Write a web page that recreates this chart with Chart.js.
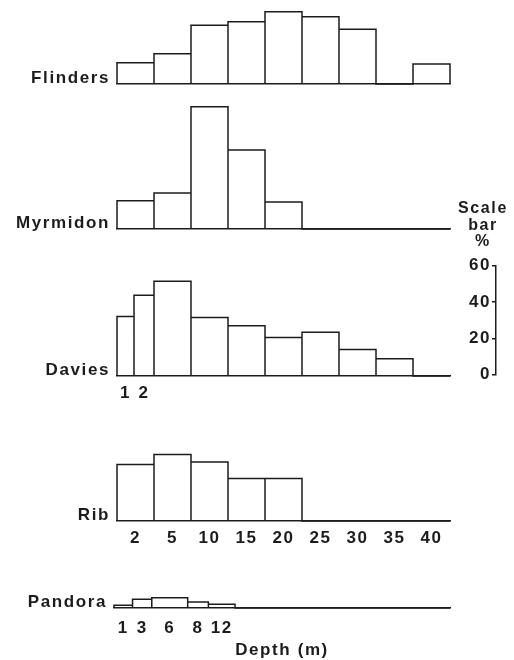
<!DOCTYPE html>
<html>
<head>
<meta charset="utf-8">
<title>Depth distribution</title>
<script src="https://cdn.jsdelivr.net/npm/chart.js@4.4.1/dist/chart.umd.min.js"></script>
<style>
  body { margin: 0; background: #fff; }
  #wrap { position: relative; width: 514px; height: 660px; overflow: hidden; }
  canvas { position: absolute; left: 0; }
</style>
</head>
<body>
<div id="wrap">
  <canvas id="flinders"></canvas>
  <canvas id="myrmidon"></canvas>
  <canvas id="davies"></canvas>
  <canvas id="rib"></canvas>
  <canvas id="pandora"></canvas>
  <canvas id="scalebar"></canvas>
</div>
<script>
// depth classes, one column each; edges are in column units
var depthLabels = ['2', '5', '10', '15', '20', '25', '30', '35', '40'];
var stdEdges = [0, 1, 2, 3, 4, 5, 6, 7, 8, 9];

// % of records per depth class
var flinders = [11.5, 16.4, 31.9, 33.7, 39.2, 36.4, 29.7, 0, 10.9];
var myrmidon = [15.3, 19.5, 66.3, 42.8, 14.6, 0, 0, 0, 0];
var rib = [30.6, 36.0, 32.0, 23.0, 23.0, 0, 0, 0, 0];

// Davies splits the first class into 1 m and 2 m
var daviesLabels = ['1', '2'];
var daviesEdges = [0, 0.46, 1, 2, 3, 4, 5, 6, 7, 8, 9];
var davies = [32.2, 43.7, 51.4, 31.7, 27.3, 20.9, 23.7, 14.4, 9.3, 0];

// Pandora has its own classes
var pandoraLabels = ['1', '3', '6', '8', '12'];
var pandoraEdges = [-0.08, 0.42, 0.94, 1.91, 2.47, 3.19, 9];
var pandora = [1.5, 4.7, 5.6, 3.3, 2.0, 0];

var scaleTicks = [0, 10, 20, 30, 40, 50, 60];

var INK = '#1c1c1c';
var COL_W = 37;       // px per depth column
var PCT_PX = 1.845;   // px per percent (same as the scale bar)
var AREA_H = 130;
var AXIS_H = 60;
var RIGHT = 450;

Chart.defaults.font.family = "'Liberation Sans', Arial, sans-serif";
Chart.defaults.font.size = 17;
Chart.defaults.font.weight = 'bold';
Chart.defaults.color = INK;

// the original lettering is widely spaced
Chart.register({
    id: 'spacing',
    beforeDraw: function (chart) { chart.ctx.letterSpacing = '1.6px'; }
});

function outline(edges, values) {
    var pts = [];
    values.forEach(function (v, i) {
        pts.push({x: edges[i], y: 0}, {x: edges[i], y: v},
                 {x: edges[i + 1], y: v}, {x: edges[i + 1], y: 0});
    });
    return pts;
}

function panel(id, name, baseline, edges, values, tickLabels, tickPad, title) {
    var canvas = document.getElementById(id);
    canvas.width = 514;
    canvas.height = AREA_H + AXIS_H;
    canvas.style.top = (baseline - AREA_H) + 'px';
    var xmin = Math.min(0, edges[0]);
    var xmax = edges[edges.length - 1];
    var centers = tickLabels.map(function (t, i) { return (edges[i] + edges[i + 1]) / 2; });

    new Chart(canvas, {
        type: 'scatter',
        data: {
            datasets: [{
                data: outline(edges, values),
                showLine: true,
                borderColor: INK,
                borderWidth: 1.5,
                borderJoinStyle: 'miter',
                pointRadius: 0,
                clip: false
            }]
        },
        options: {
            responsive: false,
            animation: false,
            events: [],
            layout: { padding: { left: 0, right: 514 - RIGHT, top: 0, bottom: 0 } },
            plugins: { legend: { display: false }, tooltip: { enabled: false } },
            scales: {
                x: {
                    type: 'linear', min: xmin, max: xmax,
                    grid: { display: false, drawTicks: false },
                    border: { color: INK, width: 1.5 },
                    ticks: {
                        display: tickLabels.length > 0,
                        autoSkip: false, maxRotation: 0, padding: tickPad,
                        callback: function (v, i) { return tickLabels[i]; }
                    },
                    afterBuildTicks: function (a) {
                        if (centers.length) a.ticks = centers.map(function (v) { return {value: v}; });
                    },
                    afterFit: function (a) { a.height = AXIS_H; },
                    title: { display: !!title, text: title, padding: { top: 0, bottom: 7 } }
                },
                y: {
                    min: 0, max: AREA_H / PCT_PX,
                    grid: { display: false, drawTicks: false },
                    border: { display: false },
                    ticks: { padding: 7, labelOffset: -6, callback: function () { return name; } },
                    afterBuildTicks: function (a) { a.ticks = [{value: 0}]; },
                    afterFit: function (a) {
                        a.width = RIGHT - (xmax - xmin) * COL_W;
                        a.paddingTop = 0;
                        a.paddingBottom = 0;
                    }
                }
            }
        }
    });
}

panel('flinders', 'Flinders', 84, stdEdges, flinders, [], 8);
panel('myrmidon', 'Myrmidon', 229, stdEdges, myrmidon, [], 8);
panel('davies', 'Davies', 376, daviesEdges, davies, daviesLabels, 7);
panel('rib', 'Rib', 521, stdEdges, rib, depthLabels, 7);
panel('pandora', 'Pandora', 608, pandoraEdges, pandora, pandoraLabels, 10, 'Depth (m)');

// scale bar
var sb = document.getElementById('scalebar');
sb.width = 58;
sb.height = 186;
sb.style.left = '456px';
sb.style.top = '200px';
new Chart(sb, {
    type: 'scatter',
    data: { datasets: [] },
    options: {
        responsive: false,
        animation: false,
        events: [],
        layout: { padding: { bottom: 10, right: 4 } },
        plugins: {
            legend: { display: false },
            tooltip: { enabled: false },
            title: {
                display: true,
                text: ['Scale', 'bar', '%'],
                font: { size: 16, weight: 'bold', lineHeight: 1.05 },
                padding: { top: 0, bottom: 15 }
            }
        },
        scales: {
            x: { display: false },
            y: {
                min: 0, max: 60,
                border: { color: INK, width: 1.5 },
                grid: { drawOnChartArea: false, drawTicks: true, tickLength: 4, color: INK, lineWidth: 1.5 },
                ticks: {
                    padding: 1,
                    callback: function (v) { return v % 20 === 0 ? String(v) : ''; }
                },
                afterBuildTicks: function (a) {
                    a.ticks = scaleTicks.map(function (v) { return {value: v}; });
                },
                afterFit: function (a) { a.width = 40; }
            }
        }
    }
});
</script>
</body>
</html>
